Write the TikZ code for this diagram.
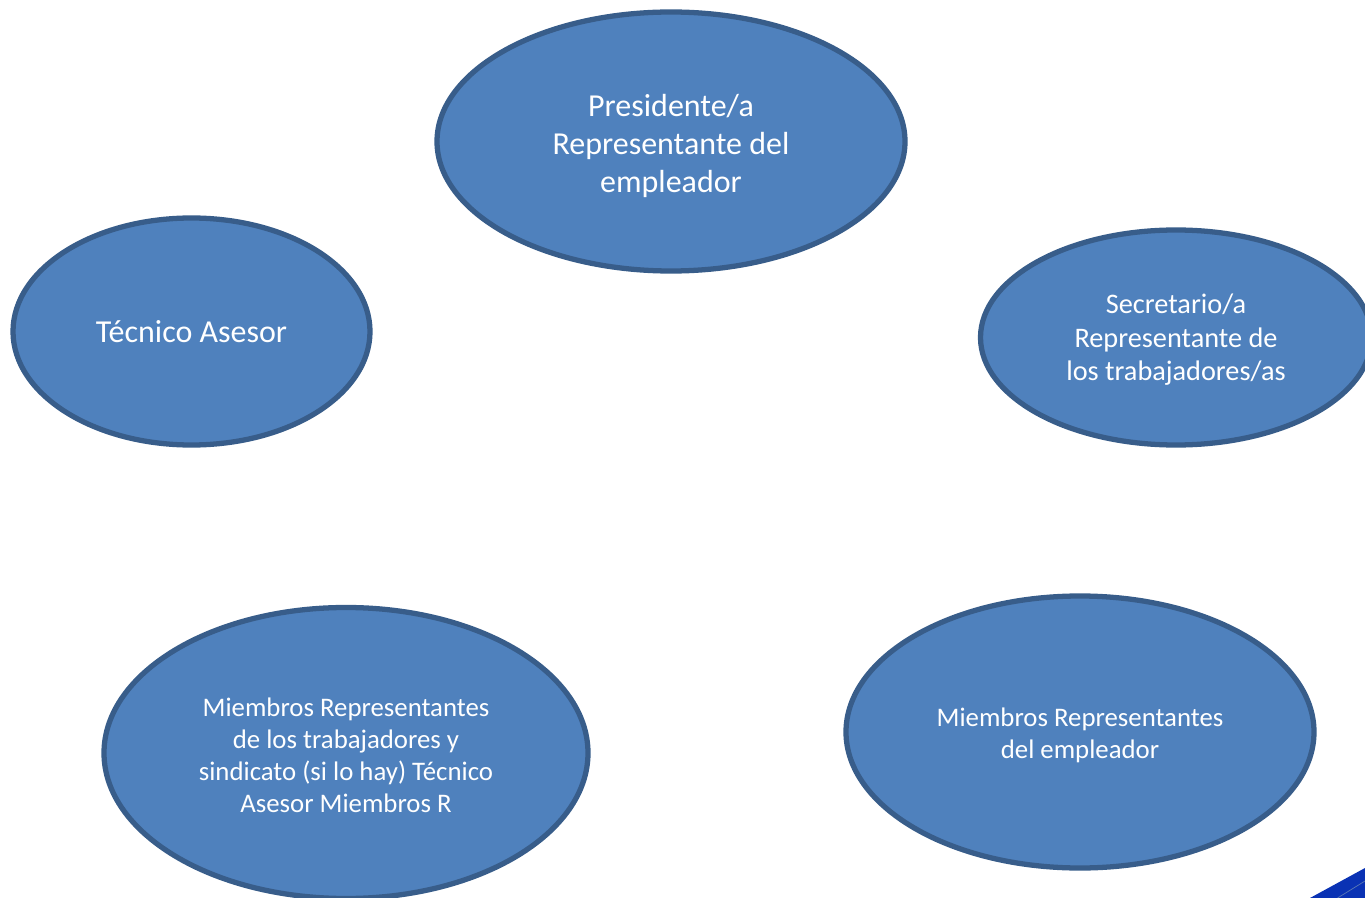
\documentclass[tikz,border=0pt]{standalone}
\usepackage{fontspec}
\setmainfont{Carlito}
\usetikzlibrary{shapes.geometric}

\definecolor{ovalfill}{HTML}{4F81BD}
\definecolor{ovalline}{HTML}{385D8A}
\definecolor{cornerblue}{HTML}{0A32B4}
\definecolor{cornerline}{HTML}{5A78B4}

\newcommand{\toprule}[1]{\rule{0pt}{#1}}

\tikzset{
  oval/.style={ellipse,draw=ovalline,fill=ovalfill,line width=3pt,text=white,align=center,inner sep=0pt},
  bigtext/.style={font=\fontsize{18.2}{21.6}\selectfont},
  midtext/.style={font=\fontsize{16.1}{19}\selectfont},
  smalltext/.style={font=\fontsize{15.25}{18.2}\selectfont}
}

\begin{document}
\begin{tikzpicture}
\useasboundingbox (0,0) rectangle (27.3,-17.96);

\node[oval,bigtext,minimum width=9.36cm,minimum height=5.18cm] (presidente) at (13.42,-2.83) {\toprule{18pt}Presidente/a\\Representante del\\empleador};

\node[oval,bigtext,minimum width=7.14cm,minimum height=4.54cm] (tecnico) at (3.83,-6.63) {Técnico Asesor};

\node[oval,midtext,minimum width=7.82cm,minimum height=4.3cm] (secretario) at (23.52,-6.75) {\toprule{14pt}Secretario/a\\Representante de\\los trabajadores/as};

\node[oval,smalltext,minimum width=9.68cm,minimum height=5.82cm] (trabajadores) at (6.92,-15.06) {\toprule{12.7pt}Miembros Representantes\\de los trabajadores y\\sindicato (si lo hay) Técnico\\Asesor Miembros R};

\node[oval,smalltext,minimum width=9.36cm,minimum height=5.44cm] (empleador) at (21.6,-14.64) {\toprule{14.8pt}Miembros Representantes\\del empleador};

% corner of the logo
\fill[cornerblue] (26.2,-17.96) -- (27.3,-17.36) -- (27.3,-17.96) -- cycle;
\draw[cornerline,line width=0.4pt] (26.75,-17.96) -- (27.3,-17.62);

\end{tikzpicture}
\end{document}
